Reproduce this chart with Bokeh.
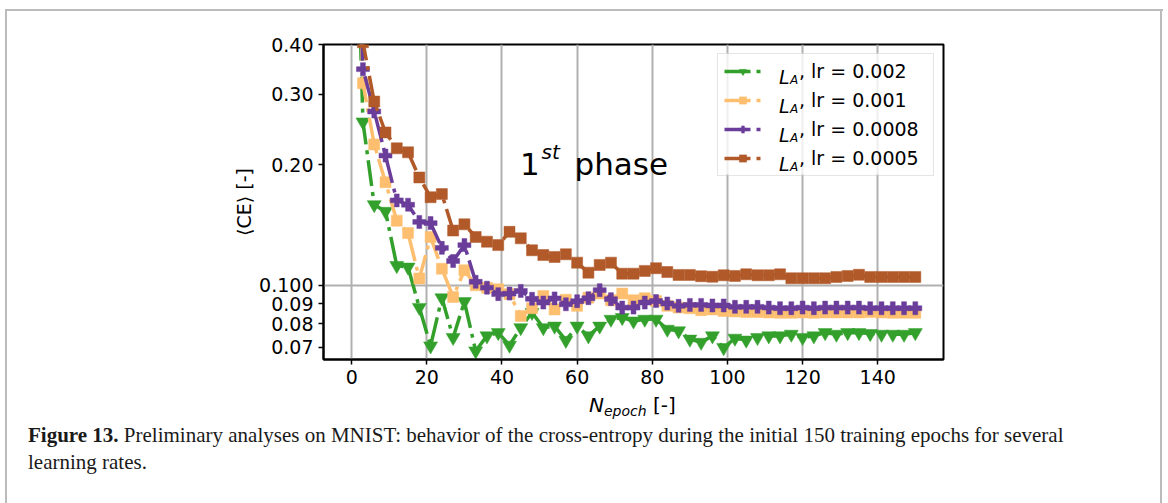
import math
from bokeh.plotting import figure
from bokeh.layouts import column
from bokeh.models import (Range1d, FixedTicker, CustomJSTickFormatter, Legend,
                          LegendItem, Label, BoxAnnotation, Div)
from bokeh.embed import file_html
from bokeh.resources import INLINE

# ---------------- data ----------------
epochs = list(range(0, 151, 3))

ce_lr_0002 = [2.3, 0.256, 0.159, 0.153, 0.112, 0.111, 0.088, 0.0705, 0.093, 0.074,
              0.091, 0.0685, 0.0747, 0.0761, 0.0708, 0.0783, 0.0855, 0.0783, 0.079, 0.0728,
              0.079, 0.0747, 0.079, 0.0822, 0.083, 0.0814, 0.0822, 0.0822, 0.0776, 0.0769,
              0.0733, 0.0720, 0.0747, 0.0698, 0.0737, 0.0729, 0.0740, 0.0747, 0.0747, 0.0754,
              0.0740, 0.0747, 0.0761, 0.0754, 0.0761, 0.0761, 0.0757, 0.0754, 0.0754, 0.0754,
              0.0761]
ce_lr_0001 = [2.3, 0.320, 0.225, 0.181, 0.145, 0.135, 0.104, 0.132, 0.110, 0.0935,
              0.109, 0.100, 0.0986, 0.0977, 0.095, 0.0838, 0.0876, 0.094, 0.087, 0.092,
              0.0888, 0.0931, 0.0953, 0.0917, 0.0953, 0.0917, 0.0928, 0.0913, 0.0888, 0.0879,
              0.0876, 0.0866, 0.087, 0.0862, 0.0860, 0.0857, 0.0857, 0.0855, 0.0853, 0.0853,
              0.0855, 0.0853, 0.0855, 0.0855, 0.0855, 0.0855, 0.0857, 0.0855, 0.0853, 0.0853,
              0.0853]
ce_lr_00008 = [2.3, 0.347, 0.272, 0.211, 0.163, 0.159, 0.144, 0.143, 0.124, 0.115,
               0.126, 0.102, 0.0986, 0.095, 0.0953, 0.0968, 0.0925, 0.0905, 0.0927, 0.0896,
               0.0912, 0.0928, 0.0972, 0.0923, 0.0879, 0.0879, 0.0905, 0.0913, 0.0900, 0.0888,
               0.0893, 0.0893, 0.0890, 0.0890, 0.0883, 0.0883, 0.0883, 0.0879, 0.0876, 0.0876,
               0.0879, 0.0876, 0.0879, 0.0879, 0.0879, 0.0879, 0.0876, 0.0876, 0.0876, 0.0876,
               0.0876]
ce_lr_00005 = [2.3, 0.405, 0.288, 0.241, 0.220, 0.215, 0.186, 0.166, 0.169, 0.137,
               0.142, 0.132, 0.1285, 0.126, 0.136, 0.131, 0.1223, 0.119, 0.1177, 0.1195,
               0.1139, 0.1075, 0.1124, 0.1139, 0.1069, 0.1069, 0.1086, 0.1103, 0.1079, 0.1061,
               0.1061, 0.1053, 0.1050, 0.1059, 0.1055, 0.1065, 0.1059, 0.1059, 0.1065, 0.1041,
               0.1041, 0.1041, 0.1041, 0.1049, 0.1055, 0.1062, 0.1049, 0.1049, 0.1049, 0.1049,
               0.1049]

series_labels = [", lr = 0.002", ", lr = 0.001", ", lr = 0.0008", ", lr = 0.0005"]
x_ticks = [0, 20, 40, 60, 80, 100, 120, 140]
y_ticks = [0.07, 0.08, 0.09, 0.1, 0.2, 0.3, 0.4]

# ---------------- layout ----------------
W, H = 1168, 503
HC = 395                      # height of chart part, caption part below
FL, FR, FT, FB = 323, 943, 44, 359
XR = (-7.5, 157.5)
YR = (0.0652, 0.40)
FONT = "DejaVu Sans"


def dx(px):
    return XR[0] + (px - FL) / (FR - FL) * (XR[1] - XR[0])


def dy(py):
    l0, l1 = math.log10(YR[0]), math.log10(YR[1])
    return 10 ** (l1 - (py - FT) / (FB - FT) * (l1 - l0))


p = figure(width=W, height=HC, output_backend="svg", toolbar_location=None,
           title=None, y_axis_type="log", x_range=Range1d(*XR), y_range=Range1d(*YR),
           min_border_left=FL, min_border_right=W - FR, min_border_top=FT,
           min_border_bottom=HC - FB)
p.background_fill_color = "white"
p.border_fill_alpha = 0
p.outline_line_color = "black"
p.outline_line_width = 2
p.outline_line_alpha = 1

for ax in (p.xaxis[0], p.yaxis[0]):
    ax.axis_line_color = "black"
    ax.axis_line_width = 2
    ax.major_tick_line_color = "black"
    ax.major_tick_line_width = 1.5
    ax.major_tick_out = 5
    ax.major_tick_in = 0
    ax.minor_tick_out = 0
    ax.minor_tick_in = 0
    ax.major_label_text_font = FONT
    ax.major_label_text_font_size = "19px"
    ax.major_label_text_color = "black"
    ax.major_label_standoff = 5

p.xaxis.ticker = FixedTicker(ticks=x_ticks)
p.yaxis.ticker = FixedTicker(ticks=y_ticks)
p.yaxis.formatter = CustomJSTickFormatter(
    code="return (Math.abs(tick - 0.1) < 1e-9) ? '0.100' : tick.toFixed(2);")
p.yaxis.axis_label = "\u27e8CE\u27e9 [-]"
p.yaxis.axis_label_text_font = FONT
p.yaxis.axis_label_text_font_size = "19px"
p.yaxis.axis_label_text_font_style = "normal"
p.yaxis.axis_label_text_color = "black"
p.yaxis.axis_label_standoff = 1

p.xgrid.ticker = FixedTicker(ticks=x_ticks)
p.ygrid.ticker = FixedTicker(ticks=[0.1])
for g in (p.xgrid[0], p.ygrid[0]):
    g.grid_line_color = "#b0b0b0"
    g.grid_line_width = 2
    g.grid_line_alpha = 1

colors = ["#33a02c", "#fdbf6f", "#6a3d9a", "#b15928"]
markers = ["inverted_triangle", "square", "plus", "square"]
sizes = [14, 11, 13, 11]
values = [ce_lr_0002, ce_lr_0001, ce_lr_00008, ce_lr_00005]

items = []
for vals, c, m, s, lab in zip(values, colors, markers, sizes, series_labels):
    lr = p.line(epochs, vals, line_color=c, line_width=3.5, line_dash="26 6 4 6")
    sr = p.scatter(epochs, vals, marker=m, size=s, fill_color=c, line_color=c,
                   line_width=0.5)
    items.append(LegendItem(label=lab, renderers=[lr, sr]))

# semi-transparent legend background (drawn separately so that the italic
# L_A texts can sit on top of it)
p.add_layout(BoxAnnotation(left=dx(719), right=dx(934), top=dy(53), bottom=dy(174),
                           fill_color="white", fill_alpha=0.8, line_color=None))

legend = Legend(items=items, location="top_right", margin=9, padding=6, spacing=7,
                glyph_width=37, glyph_height=18, label_height=18, label_width=128,
                label_standoff=38, label_text_font=FONT, label_text_font_size="19px",
                label_text_color="black",
                border_line_color="#cccccc", border_line_width=1.5,
                background_fill_alpha=0)
p.add_layout(legend)

# italic L_A in front of each legend text
row_centers = [70, 99, 128, 157]
for rc in row_centers:
    p.add_layout(Label(x=dx(778.5), y=dy(rc + 6), text="L", text_font=FONT,
                       text_font_size="19px", text_font_style="italic",
                       text_color="black", text_baseline="alphabetic"))
    p.add_layout(Label(x=dx(789.5), y=dy(rc + 9), text="A", text_font=FONT,
                       text_font_size="12px", text_font_style="italic",
                       text_color="black", text_baseline="alphabetic"))

# "1st phase"
p.add_layout(Label(x=dx(519.5), y=dy(163), text="1", text_font=FONT,
                   text_font_size="31px", text_color="black",
                   text_baseline="alphabetic"))
p.add_layout(Label(x=dx(541), y=dy(151), text="st", text_font=FONT,
                   text_font_size="20px", text_font_style="italic",
                   text_color="black", text_baseline="alphabetic"))
p.add_layout(Label(x=dx(574), y=dy(163), text="phase", text_font=FONT,
                   text_font_size="31px", text_color="black",
                   text_baseline="alphabetic"))

# ---------------- x-axis label and caption ----------------
xlabel_html = (
    '<div style="margin:0 0 0 589px;height:20px;line-height:20px;'
    "font-family:'DejaVu Sans';font-size:20px;color:black;white-space:nowrap\">"
    '<i>N</i><span style="font-size:14px;font-style:italic;position:relative;'
    'top:4px">epoch</span> [-]</div>')
caption_html = (
    '<div style="margin:7px 0 0 28px;line-height:27px;'
    "font-family:'Liberation Serif';font-size:21px;color:#1a1a1a;white-space:nowrap\">"
    '<b>Figure 13.</b> Preliminary analyses on MNIST: behavior of the cross-entropy '
    'during the initial 150 training epochs for several<br>learning rates.</div>')
cap = Div(text=xlabel_html + caption_html, width=W, height=H - HC,
          styles={"margin": "0", "padding": "0"})

GR = "linear-gradient(#bbbbbb, #bbbbbb)"
page = column(p, cap, spacing=0, styles={
    "background-color": "white",
    "background-image": f"{GR}, {GR}, {GR}",
    "background-size": "2px 100%, 2px 100%, 1158px 2px",
    "background-position": "5px 9px, 1160px 9px, 5px 9px",
    "background-repeat": "no-repeat",
})

open("out.html", "w").write(file_html(page, INLINE))
